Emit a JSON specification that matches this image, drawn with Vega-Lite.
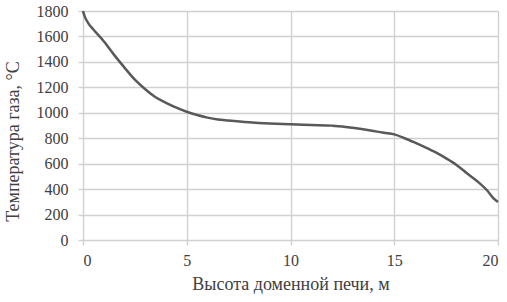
{
  "$schema": "https://vega.github.io/schema/vega-lite/v6.json",
  "width": 415,
  "height": 229,
  "autosize": {"type": "none"},
  "padding": {"left": 83, "top": 11, "right": 9, "bottom": 62},
  "background": "white",
  "config": {
    "view": {"stroke": null},
    "axis": {
      "domain": false,
      "grid": true,
      "gridColor": "#d0d0d0",
      "gridWidth": 1.4,
      "gridOpacity": 1,
      "tickColor": "#d0d0d0",
      "tickWidth": 1.4,
      "tickSize": 5
    }
  },
  "data": {
    "values": [
      {"h": 0, "t": 1800},
      {"h": 0.1, "t": 1750},
      {"h": 0.25, "t": 1705},
      {"h": 0.5, "t": 1655},
      {"h": 1, "t": 1562},
      {"h": 1.5, "t": 1455},
      {"h": 2, "t": 1355},
      {"h": 2.5, "t": 1260},
      {"h": 3, "t": 1185},
      {"h": 3.5, "t": 1122},
      {"h": 4, "t": 1078},
      {"h": 4.5, "t": 1040},
      {"h": 5, "t": 1008},
      {"h": 5.5, "t": 982},
      {"h": 6, "t": 962},
      {"h": 6.5, "t": 948},
      {"h": 7, "t": 940},
      {"h": 8, "t": 926},
      {"h": 9, "t": 916},
      {"h": 10, "t": 909},
      {"h": 11, "t": 904},
      {"h": 12, "t": 899},
      {"h": 12.5, "t": 893},
      {"h": 13, "t": 882},
      {"h": 13.5, "t": 870},
      {"h": 14, "t": 857},
      {"h": 14.5, "t": 843},
      {"h": 15, "t": 830},
      {"h": 15.5, "t": 800},
      {"h": 16, "t": 765},
      {"h": 16.5, "t": 728},
      {"h": 17, "t": 688},
      {"h": 17.5, "t": 642},
      {"h": 18, "t": 590},
      {"h": 18.5, "t": 525},
      {"h": 19, "t": 462},
      {"h": 19.5, "t": 385},
      {"h": 19.8, "t": 325},
      {"h": 20, "t": 298}
    ]
  },
  "mark": {"type": "line", "color": "#595959", "strokeWidth": 2.5, "interpolate": "monotone"},
  "encoding": {
    "x": {
      "field": "h",
      "type": "quantitative",
      "scale": {"domain": [0, 20], "nice": false},
      "axis": {
        "grid": true,
        "values": [0, 5, 10, 15, 20],
        "format": "d",
        "title": "Высота доменной печи, м",
        "labelFont": "Liberation Serif",
        "labelFontSize": 16,
        "labelColor": "#404040",
        "labelPadding": 7,
        "titleFont": "Liberation Serif",
        "titleFontSize": 18,
        "titleFontWeight": "normal",
        "titleColor": "#404040",
        "titlePadding": 7
      }
    },
    "y": {
      "field": "t",
      "type": "quantitative",
      "scale": {"domain": [0, 1800], "nice": false},
      "axis": {
        "grid": true,
        "values": [0, 200, 400, 600, 800, 1000, 1200, 1400, 1600, 1800],
        "format": "d",
        "title": "Температура газа, °С",
        "labelFont": "Liberation Serif",
        "labelFontSize": 16,
        "labelColor": "#404040",
        "labelPadding": 10,
        "titleFont": "Liberation Serif",
        "titleFontSize": 18,
        "titleFontWeight": "normal",
        "titleColor": "#404040",
        "titleBaseline": "middle",
        "titleY": 130,
        "titleX": -70
      }
    }
  }
}
